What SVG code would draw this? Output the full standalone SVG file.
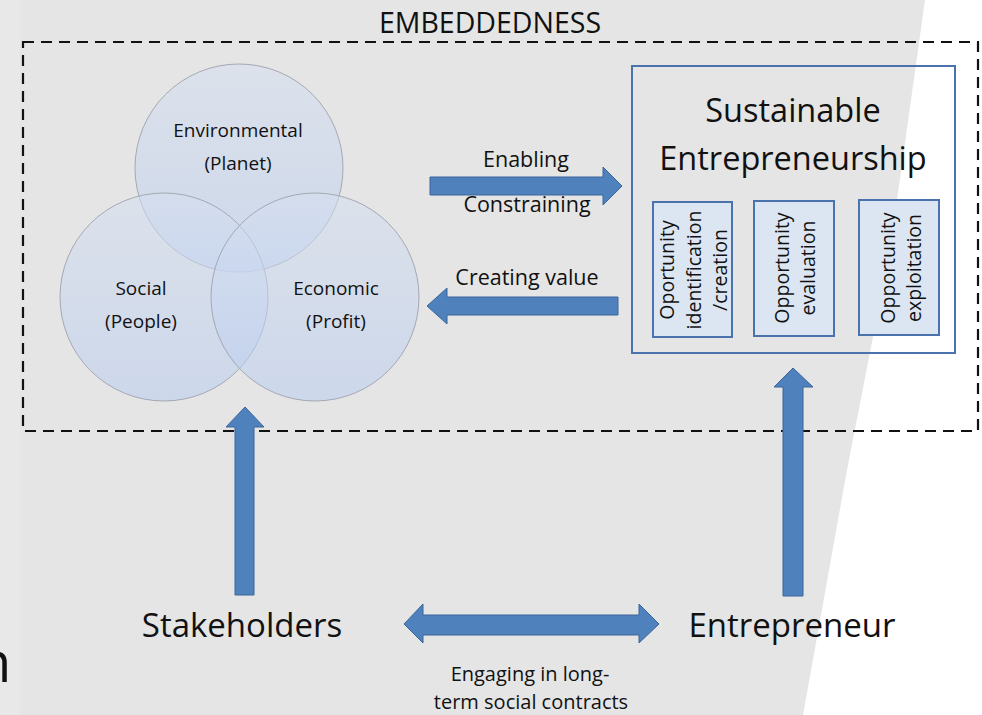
<svg xmlns="http://www.w3.org/2000/svg" width="982" height="715" viewBox="0 0 982 715">
<defs>
<linearGradient id="cg" x1="0" y1="0" x2="0" y2="1">
<stop offset="0" stop-color="#d5dff0"/>
<stop offset="1" stop-color="#b8ccef"/>
</linearGradient>
<style>
text{font-family:"Open Sans","Noto Sans","Liberation Sans",sans-serif;fill:#111}
.c{fill:url(#cg);fill-opacity:0.55;stroke:#a3a8b3;stroke-width:1}
.arr{fill:#4f81bd;stroke:#3c659b;stroke-width:1}
.sub{fill:#dce6f2;stroke:#4a72ac;stroke-width:2}
.m{text-anchor:middle}
.ct{font-size:19px}
.lbl{font-size:21.5px}
.st{font-size:19.5px}
.big{font-size:33px}
</style>
</defs>
<rect x="0" y="0" width="982" height="715" fill="#e5e5e5"/>
<rect x="0" y="0" width="20" height="715" fill="#e8e8e8"/>
<path d="M925,0 L890,250 L847,470 L803,715 L982,715 L982,0 Z" fill="#ffffff"/>
<text x="-23" y="682" style="font-size:56px">n</text>

<g id="embeddedness">
<rect x="23" y="42" width="955" height="389" fill="none" stroke="#111" stroke-width="2.2" stroke-dasharray="11 7"/>
<text class="m" x="490" y="33" style="font-size:28.5px">EMBEDDEDNESS</text>
</g>

<g id="environmental">
<circle class="c" cx="239" cy="168" r="104"/>
</g>
<g id="social">
<circle class="c" cx="164" cy="297" r="104"/>
</g>
<g id="economic">
<circle class="c" cx="315" cy="297" r="104"/>
</g>
<g id="circle-labels">
<text class="m ct" x="238" y="137">Environmental</text>
<text class="m ct" x="238" y="170">(Planet)</text>
<text class="m ct" x="141" y="295">Social</text>
<text class="m ct" x="141" y="328">(People)</text>
<text class="m ct" x="336" y="295">Economic</text>
<text class="m ct" x="336" y="328">(Profit)</text>
</g>

<g id="sustainable-entrepreneurship">
<rect x="632" y="66" width="323" height="287" fill="none" stroke="#4a72ac" stroke-width="2"/>
<text class="m" x="793" y="122" style="font-size:32.5px">Sustainable</text>
<text class="m" x="793" y="170" style="font-size:32.5px">Entrepreneurship</text>
</g>
<g id="opp-identification">
<rect class="sub" x="653" y="202" width="79" height="135"/>
<text class="m st" transform="translate(674,270) rotate(-90)"><tspan x="0" y="0">Oportunity</tspan><tspan x="0" y="27">identification</tspan><tspan x="0" y="53">/creation</tspan></text>
</g>
<g id="opp-evaluation">
<rect class="sub" x="754" y="201" width="80" height="135"/>
<text class="m st" transform="translate(789,268) rotate(-90)"><tspan x="0" y="0">Opportunity</tspan><tspan x="0" y="26">evaluation</tspan></text>
</g>
<g id="opp-exploitation">
<rect class="sub" x="859" y="200" width="80" height="135"/>
<text class="m st" transform="translate(895,268) rotate(-90)"><tspan x="0" y="0">Opportunity</tspan><tspan x="0" y="26">exploitation</tspan></text>
</g>

<g id="stakeholders">
<text class="m big" x="242" y="637">Stakeholders</text>
</g>
<g id="entrepreneur">
<text class="m big" x="792" y="637">Entrepreneur</text>
</g>

<g id="connectors">
<polygon class="arr" points="430,177 603,177 603,167 622,186 603,205 603,195 430,195"/>
<text class="m lbl" x="526" y="167">Enabling</text>
<text class="m lbl" x="527" y="212">Constraining</text>
<polygon class="arr" points="618,297 447,297 447,288 427,306 447,324 447,315 618,315"/>
<text class="m lbl" x="527" y="285">Creating value</text>
<polygon class="arr" points="235,595 235,427 226,427 245,407 264,427 254,427 254,595"/>
<polygon class="arr" points="783,596 783,387 774,387 793,368 813,387 803,387 803,596"/>
<polygon class="arr" points="404,624 423,604 423,615 639,615 639,604 659,624 639,643 639,635 423,635 423,643"/>
<text class="m" x="530" y="681" style="font-size:20px">Engaging in long-</text>
<text class="m" x="531" y="709" style="font-size:20px">term social contracts</text>
</g>
</svg>
